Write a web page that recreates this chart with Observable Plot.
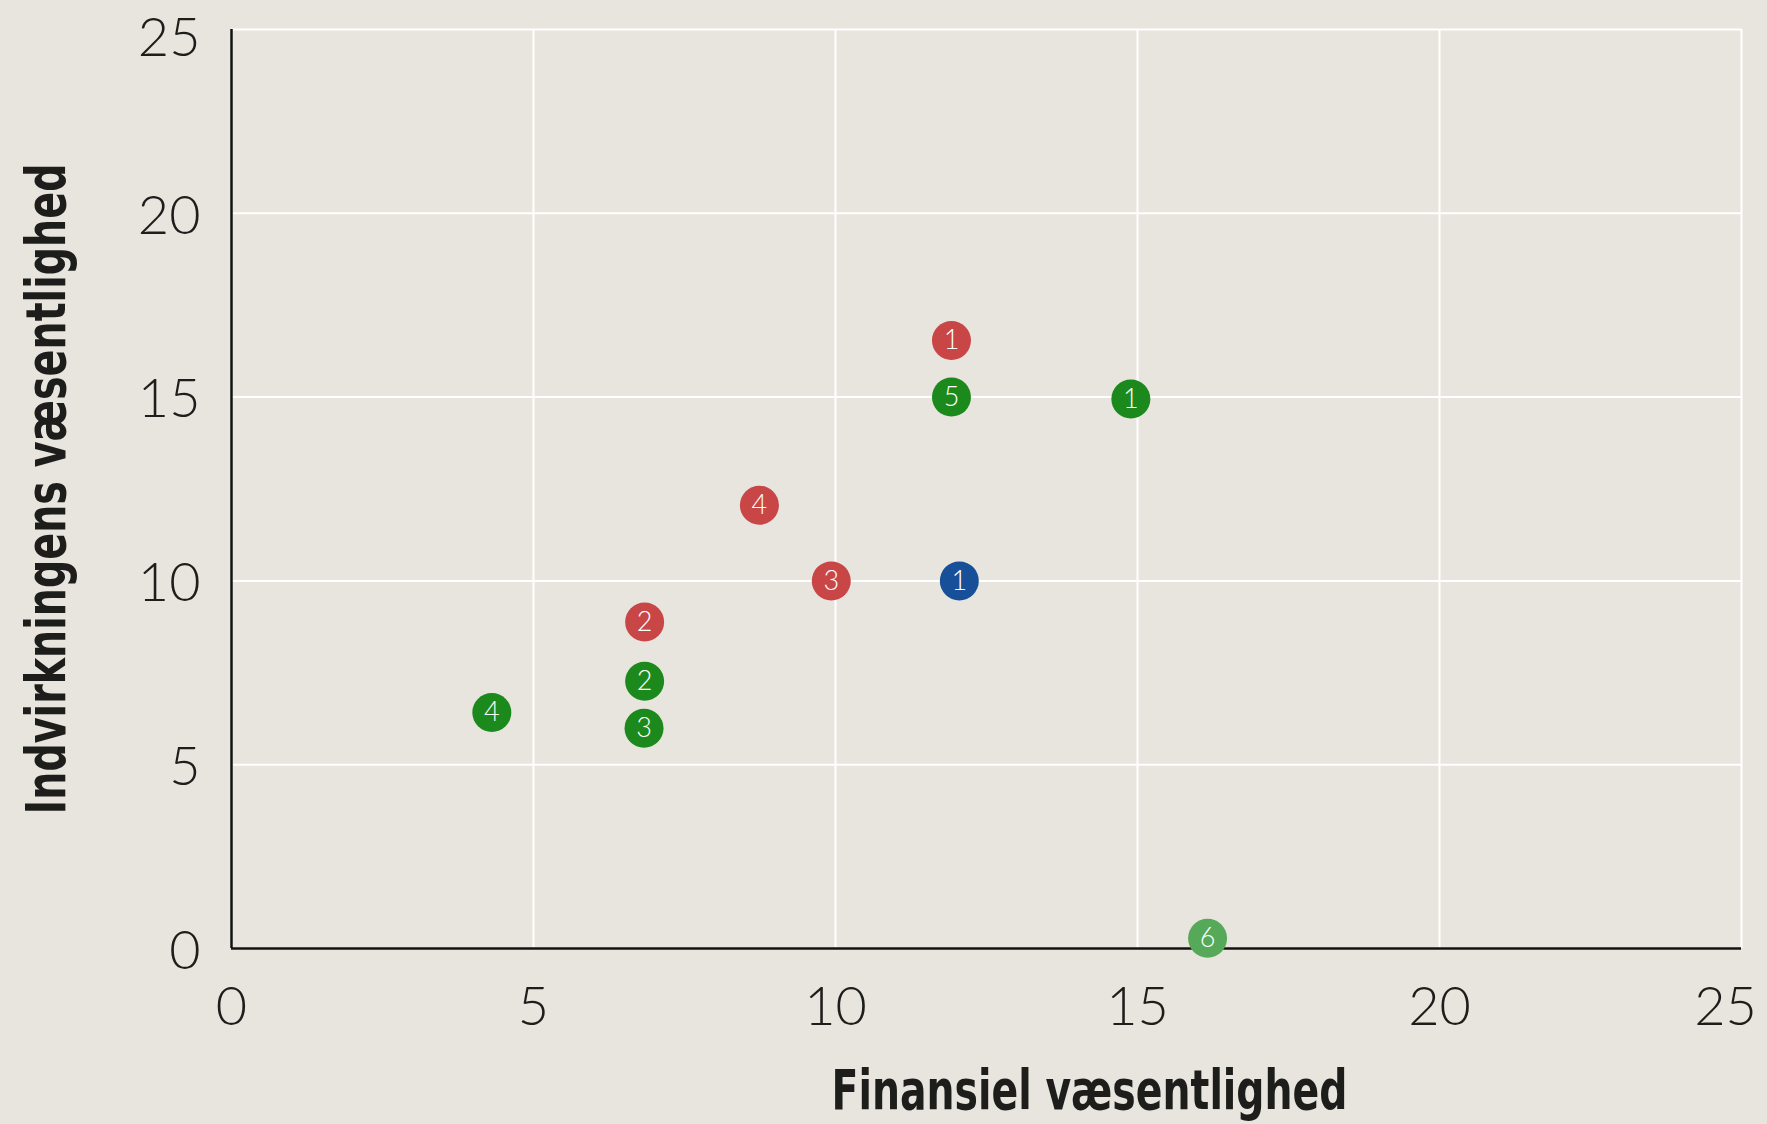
<!DOCTYPE html>
<html><head><meta charset="utf-8">
<script src="https://cdn.jsdelivr.net/npm/d3@7"></script>
<script src="https://cdn.jsdelivr.net/npm/@observablehq/plot@0.6"></script>
<style>body{margin:0;background:#E8E4DE;}</style>
</head><body><div id="chart"></div>
<script>
const labels = ["1","5","1","4","3","1","2","2","3","4","6"];
const groups = ["G1","G2","G2","G1","G1","G3","G1","G2","G2","G2","G4"];
const xs = [11.92, 11.92, 14.89, 8.74, 9.93, 12.05, 6.84, 6.84, 6.83, 4.31, 16.16];
const ys = [16.54, 15.0, 14.95, 12.06, 10.0, 10.0, 8.88, 7.27, 5.99, 6.42, 0.28];
const groupNames = ["G1","G2","G3","G4"];
const groupColors = ["#C94646","#1B891B","#174F99","#55A958"];
const xTicks = [0,5,10,15,20];
const xTicksEnd = [25];
const yTicks = [0,5,10,15,20];
const yTicksEnd = [25];
const xTitle = "Finansiel væsentlighed";
const yTitle = "Indvirkningens væsentlighed";

const data = labels.map((l,i)=>({label:l, group:groups[i], x:xs[i], y:ys[i]}));
const titleFont = "'Liberation Sans Narrow', 'DejaVu Sans Condensed', 'Liberation Sans', sans-serif";
const tickStyle = {tickSize:0, fontSize:54, fontWeight:300, label:null, fill:"#1d1d1b"};

const chart = Plot.plot({
  width:1767, height:1124,
  marginLeft:231, marginRight:26, marginTop:29, marginBottom:176,
  style:{background:"#E8E4DE", fontFamily:"Lato, sans-serif", color:"#1d1d1b"},
  x:{domain:[0,25]}, y:{domain:[0,25]},
  color:{type:"ordinal", domain:groupNames, range:groupColors},
  marks:[
    Plot.gridX(xTicks.concat(xTicksEnd),{stroke:"#ffffff", strokeOpacity:1, strokeWidth:2}),
    Plot.gridY(yTicks.concat(yTicksEnd),{stroke:"#ffffff", strokeOpacity:1, strokeWidth:2}),
    Plot.ruleX([0],{stroke:"#111", strokeWidth:2.5}),
    Plot.ruleY([0],{stroke:"#111", strokeWidth:2.5}),
    Plot.axisX(xTicks,{...tickStyle, tickPadding:38}),
    Plot.axisX(xTicksEnd,{...tickStyle, tickPadding:38, dx:-16}),
    Plot.axisY(yTicks,{...tickStyle, tickPadding:31, dy:3}),
    Plot.axisY(yTicksEnd,{...tickStyle, tickPadding:31, dy:9}),
    Plot.dot(data,{x:"x", y:"y", fill:"group", r:19.5}),
    Plot.text(data,{x:"x", y:"y", text:"label", fill:"white", fontSize:27, fontWeight:300}),
    Plot.text([xTitle],{frameAnchor:"bottom", lineAnchor:"middle", textAnchor:"middle", dx:103, dy:143, fontSize:56, fontWeight:"bold", fontFamily:titleFont, fill:"#1d1d1b"}),
    Plot.text([yTitle],{frameAnchor:"left", lineAnchor:"middle", textAnchor:"middle", rotate:-90, dx:-184, fontSize:56, fontWeight:"bold", fontFamily:titleFont, fill:"#1d1d1b"})
  ]
});
// fit title widths to the reference (condensed bold face)
d3.select(chart).selectAll("text").each(function(){
  const t = this.textContent;
  if (t === xTitle) d3.select(this).attr("textLength", 516).attr("lengthAdjust","spacingAndGlyphs");
  if (t === yTitle) d3.select(this).attr("textLength", 651).attr("lengthAdjust","spacingAndGlyphs");
});
document.getElementById("chart").append(chart);
</script>
</body></html>
